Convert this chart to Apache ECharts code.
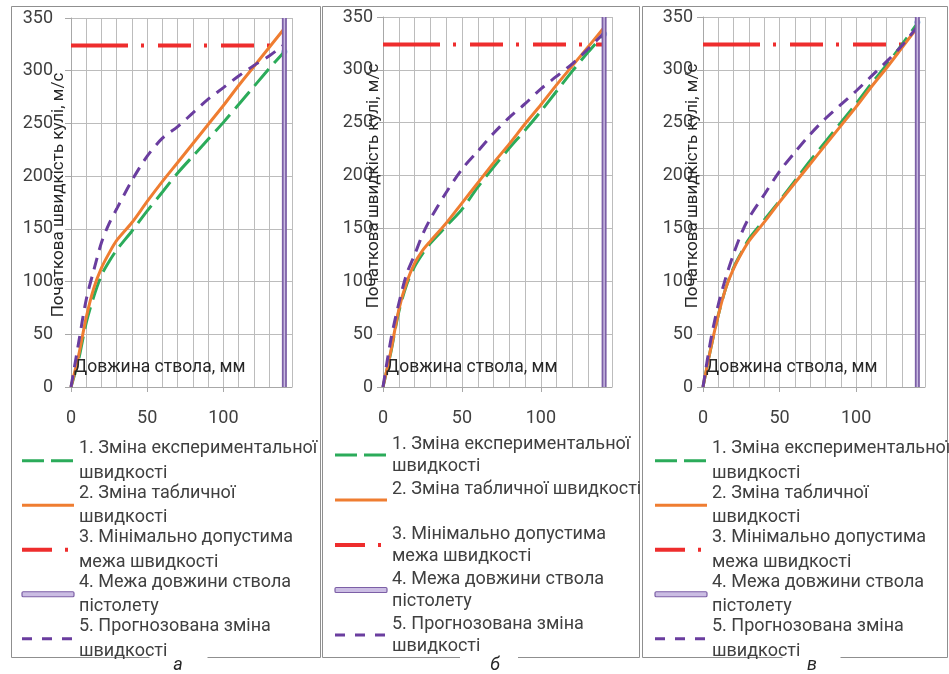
<!DOCTYPE html>
<html>
<head>
<meta charset="utf-8">
<script src="https://cdn.jsdelivr.net/npm/echarts@6/dist/echarts.min.js"></script>
<style>
html, body { margin: 0; padding: 0; background: #fff; }
#chart { width: 949px; height: 674px; }
</style>
</head>
<body>
<div id="chart"></div>
<script>
// довжина ствола, мм
const xs = [0, 5, 10, 15, 20, 25, 30, 40, 50, 60, 70, 80, 90, 100, 110, 120, 130, 140];

// панель а
const expA = [0, 26, 61, 86, 106, 119, 130, 148, 167, 185, 203, 219, 235, 251, 268, 285, 302, 318];
const tabA = [0, 30, 66, 94, 113, 127, 139, 156, 176, 195, 213, 231, 249, 267, 286, 304, 322, 340];
const prgA = [0, 42, 83, 111, 137, 155, 169, 196, 219, 236, 247, 260, 273, 284, 295, 305, 314, 325];

// панель б
const expB = [0, 33, 71, 97, 114, 126, 136, 152, 168, 189, 208, 226, 243, 261, 280, 299, 317, 334];
const tabB = [0, 34, 73, 99, 117, 129, 138, 155, 174, 193, 212, 230, 249, 267, 286, 304, 322, 340];
const prgB = [0, 45, 79, 107, 125, 144, 159, 184, 206, 223, 240, 255, 268, 282, 294, 306, 320, 335];

// панель в
const expC = [0, 36, 68, 94, 113, 127, 140, 158, 176, 195, 214, 232, 250, 268, 287, 305, 324, 344];
const tabC = [0, 36, 68, 94, 112, 126, 138, 156, 175, 193, 211, 229, 247, 265, 284, 302, 321, 340];
const prgC = [0, 44, 78, 104, 126, 145, 160, 182, 204, 222, 239, 254, 267, 280, 294, 308, 323, 341];

const minSpeed = 324;      // мінімально допустима швидкість, м/с
const barrelLen = 140;     // довжина ствола, мм
const endDots = [318, 334, 345];

const xTicks = [0, 50, 100];

const N1 = 'Зміна експериментальної швидкості';
const N2 = 'Зміна табличної швидкості';
const N3 = 'Мінімально допустима межа швидкості';
const N4 = 'Межа довжини ствола пістолету';
const N5 = 'Прогнозована зміна швидкості';

const textAC = {};
textAC[N1] = '1. Зміна експериментальної\nшвидкості';
textAC[N2] = '2. Зміна табличної\nшвидкості';
textAC[N3] = '3. Мінімально допустима\nмежа швидкості';
textAC[N4] = '4. Межа довжини ствола\nпістолету';
textAC[N5] = '5. Прогнозована зміна\nшвидкості';
const textB = Object.assign({}, textAC);
textB[N2] = '2. Зміна табличної швидкості\n ';

const X_NAME = 'Довжина ствола, мм';
const Y_NAME = 'Початкова швидкість кулі, м/с';

const FONT = 'Roboto';
const GRID_COL = '#bcbcbc';
const AXIS_COL = '#a8a8a8';

const panels = [
    { exp: expA, tab: tabA, prg: prgA, texts: textAC, tag: 'а',
      left: 71, top: 18, width: 221, height: 369, yMargin: 18,
      yNameX: 59, yNameY: 195,
      legLeft: 20, legTop: 424, lineH: 24.5, legGap: -29,
      box: [11, 6, 309, 651], tagX: 178, gapX: 178.5 },
    { exp: expB, tab: tabB, prg: prgB, texts: textB, tag: 'б',
      left: 383, top: 17, width: 229, height: 370, yMargin: 10,
      yNameX: 374, yNameY: 186,
      legLeft: 333, legTop: 422, lineH: 22, legGap: -21,
      box: [322, 6, 317, 651], tagX: 495, gapX: 489 },
    { exp: expC, tab: tabC, prg: prgC, texts: textAC, tag: 'в',
      left: 703, top: 17, width: 222, height: 370, yMargin: 10,
      yNameX: 693, yNameY: 186,
      legLeft: 653, legTop: 424, lineH: 24.5, legGap: -29,
      box: [642, 6, 305, 651], tagX: 812, gapX: 811.5 }
];

const zip = (a, b) => a.map((v, i) => [v, b[i]]);

let grid = [], xAxis = [], yAxis = [], series = [], legend = [], graphic = [];

panels.forEach((p, i) => {
    grid.push({ left: p.left, top: p.top, width: p.width, height: p.height, outerBoundsMode: 'none' });

    // основна вісь: підписи 0, 50, 100
    xAxis.push({
        gridIndex: i, type: 'value', min: 0, max: 145, interval: 50,
        axisLine: { show: true, lineStyle: { color: AXIS_COL } },
        axisTick: { show: true, length: 5, lineStyle: { color: AXIS_COL } },
        axisLabel: {
            margin: 22, fontSize: 18, fontFamily: FONT, color: '#404040', showMaxLabel: false,
            formatter: v => (xTicks.indexOf(v) >= 0 ? String(v) : '')
        },
        splitLine: { show: false }
    });
    // допоміжна вісь: сітка через 10 мм
    xAxis.push({
        gridIndex: i, type: 'value', min: 0, max: 145, interval: 10, position: 'bottom',
        axisLine: { show: false }, axisTick: { show: false }, axisLabel: { show: false },
        splitLine: { show: true, lineStyle: { color: GRID_COL, width: 1 } }
    });
    yAxis.push({
        gridIndex: i, type: 'value', min: 0, max: 350, interval: 50,
        axisLine: { show: true, lineStyle: { color: AXIS_COL } },
        axisTick: { show: true, length: 6, lineStyle: { color: AXIS_COL } },
        axisLabel: { margin: p.yMargin, fontSize: 18, fontFamily: FONT, color: '#404040' },
        splitLine: { show: true, lineStyle: { color: GRID_COL, width: 1 } }
    });

    const xi = i * 2;
    const base = { type: 'line', xAxisIndex: xi, yAxisIndex: i, symbol: 'none', silent: true,
                   animation: false, smooth: 0.3 };

    series.push(Object.assign({}, base, {
        name: N3, smooth: false, data: [[0, minSpeed], [barrelLen, minSpeed]],
        lineStyle: { color: '#ee2d2d', width: 4,
                     type: [57, 13, 3, 14, 33, 13, 3, 14, 33, 13, 3, 14, 33, 13, 3, 14] }
    }));
    series.push(Object.assign({}, base, {
        name: N1, data: zip(xs, p.exp),
        lineStyle: { color: '#2bab5a', width: 3, type: [22, 8] }
    }));
    series.push(Object.assign({}, base, {
        name: N2, data: zip(xs, p.tab),
        lineStyle: { color: '#ef7d31', width: 3 }
    }));
    series.push(Object.assign({}, base, {
        name: N5, data: zip(xs, p.prg),
        lineStyle: { color: '#6a3d9f', width: 3, type: [12, 8] }
    }));
    series.push(Object.assign({}, base, {
        name: N4, smooth: false, data: [[barrelLen, 0], [barrelLen, 350]],
        lineStyle: { color: '#7c5fa6', width: 5 }
    }));
    series.push(Object.assign({}, base, {
        name: 'inner' + i, smooth: false, data: [[barrelLen, 0], [barrelLen, 350]],
        lineStyle: { color: '#c8b9e1', width: 1.5 }
    }));
    series.push({
        type: 'scatter', xAxisIndex: xi, yAxisIndex: i, silent: true, animation: false,
        symbolSize: 6, itemStyle: { color: '#5b9bd5' }, data: [[barrelLen, endDots[i]]]
    });

    legend.push({
        orient: 'vertical', left: p.legLeft, top: p.legTop, height: 600, padding: 0,
        itemWidth: 52, itemHeight: 5, itemGap: p.legGap, selectedMode: false,
        itemStyle: { opacity: 0 },
        lineStyle: { width: 3, opacity: 1 },
        data: [
            { name: N1, lineStyle: { type: [22, 7], width: 3 } },
            { name: N2, lineStyle: { width: 3 } },
            { name: N3, lineStyle: { type: [30, 13, 3, 20], width: 4 } },
            { name: N4, icon: 'roundRect',
              itemStyle: { opacity: 1, color: '#cbbde3', borderColor: '#7c5fa6', borderWidth: 1.2 } },
            { name: N5, lineStyle: { type: [10, 10], width: 3 } }
        ],
        formatter: name => p.texts[name],
        textStyle: { fontFamily: FONT, fontSize: 18, color: '#404040',
                     lineHeight: p.lineH, padding: [p.lineH, 0, 0, 0] }
    });

    // назви осей
    graphic.push({
        type: 'text', z: 5, silent: true, x: p.left + 3, y: 368,
        style: { text: X_NAME, font: '17.5px ' + FONT, fill: '#262626',
                 align: 'left', verticalAlign: 'middle' }
    });
    graphic.push({
        type: 'text', z: 5, silent: true, x: p.yNameX, y: p.yNameY, rotation: Math.PI / 2,
        style: { text: Y_NAME, font: '17px ' + FONT, fill: '#262626',
                 align: 'center', verticalAlign: 'middle' }
    });

    const b = p.box;
    graphic.push({
        type: 'rect', z: 1, silent: true,
        shape: { x: b[0] + 0.5, y: b[1] + 0.5, width: b[2], height: b[3] },
        style: { fill: 'none', stroke: '#8f8f8f', lineWidth: 1 }
    });
    graphic.push({
        type: 'rect', z: 2, silent: true,
        shape: { x: p.gapX - 29, y: b[1] + b[3] - 4, width: 58, height: 10 },
        style: { fill: '#fff' }
    });
    graphic.push({
        type: 'text', z: 3, silent: true, x: p.tagX, y: 665,
        style: { text: p.tag, font: 'italic 18px ' + FONT, fill: '#262626',
                 align: 'center', verticalAlign: 'middle' }
    });
});

const chart = echarts.init(document.getElementById('chart'));
chart.setOption({
    backgroundColor: '#fff',
    animation: false,
    grid: grid,
    xAxis: xAxis,
    yAxis: yAxis,
    legend: legend,
    graphic: graphic,
    series: series
});
window.onresize = function () {
    chart.resize();
};
</script>
</body>
</html>
